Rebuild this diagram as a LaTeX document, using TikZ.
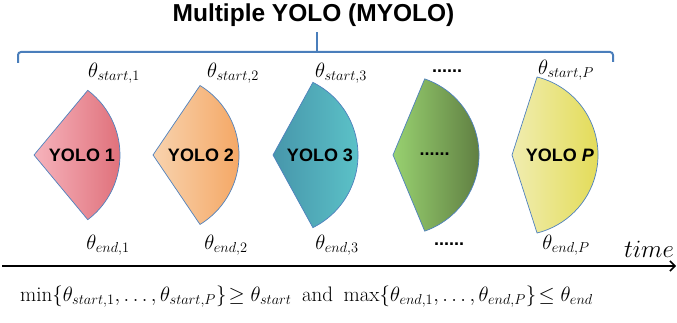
\documentclass[tikz,border=0pt]{standalone}
\usepackage{fontspec}
\newfontfamily\arial{Liberation Sans}
\usetikzlibrary{arrows.meta}
\definecolor{bordercol}{HTML}{4F81BD}
\definecolor{bracecol}{HTML}{4A7EBB}
\definecolor{cAL}{HTML}{F6B3BC}\definecolor{cAM}{HTML}{F29CA6}\definecolor{cAR}{HTML}{DF6F79}
\definecolor{cBL}{HTML}{F8D3AE}\definecolor{cBM}{HTML}{F6BB86}\definecolor{cBR}{HTML}{F4A25C}
\definecolor{cCL}{HTML}{4796AB}\definecolor{cCM}{HTML}{54B3BE}\definecolor{cCR}{HTML}{5EC7CB}
\definecolor{cDL}{HTML}{98D170}\definecolor{cDM}{HTML}{7CC25A}\definecolor{cDR}{HTML}{5A763D}
\definecolor{cEL}{HTML}{F0EDB0}\definecolor{cEM}{HTML}{E8E282}\definecolor{cER}{HTML}{E2DA50}
\tikzset{
  sector/.style={draw=bordercol, line width=0.7pt},
  yololabel/.style={font=\arial\bfseries\fontsize{18}{20}\selectfont, inner sep=0pt},
  thlabel/.style={font=\fontsize{19.5}{22}\selectfont, inner sep=0pt},
  dotlabel/.style={font=\arial\bfseries\fontsize{18}{20}\selectfont, inner sep=0pt},
  bracestyle/.style={draw=bracecol, line width=2pt, rounded corners=3pt},
}
\newcommand{\sectorshape}[8]{%
  \coordinate (#8apex) at (#1,167);
  \coordinate (#8c) at (#2,167);
  \path[sector, left color=#5, middle color=#6, right color=#7]
    (#8apex) -- ([shift={(#4:#3)}]#8c) arc[start angle=#4, end angle=-#4, radius=#3] -- cycle;
}
\begin{document}
\begin{tikzpicture}[x=1pt,y=1pt]
\useasboundingbox (0,0) rectangle (677,322);
% title
\node[font=\arial\bfseries\fontsize{24.5}{27}\selectfont, anchor=base, inner sep=0pt] (title) at (313.5,300) {Multiple YOLO (MYOLO)};
% brace
\coordinate (bl) at (18,259);
\coordinate (br) at (613,260);
\coordinate (bt) at (316.5,290);
\coordinate (bm) at (316.5,270);
\draw[bracestyle] (bl) |- (bm) -| (br);
\draw[draw=bracecol, line width=2pt] (bm) -- (bt);
% sectors
\sectorshape{34}{39}{81}{53}{cAL}{cAM}{cAR}{s1}
\sectorshape{153}{157.6}{81.4}{58.6}{cBL}{cBM}{cBR}{s2}
\sectorshape{273}{277}{81}{63.7}{cCL}{cCM}{cCR}{s3}
\sectorshape{393}{398.5}{80.5}{71}{cDL}{cDM}{cDR}{s4}
\sectorshape{512}{517.6}{80.4}{76}{cEL}{cEM}{cER}{s5}
% labels inside
\node[yololabel] (y1) at (82,167) {YOLO 1};
\node[yololabel] (y2) at (201,167) {YOLO 2};
\node[yololabel] (y3) at (320,167) {YOLO 3};
\node[dotlabel] (y4) at (434.5,168) {......};
\node[yololabel] (y5) at (560,167) {YOLO \textit{P}};
% start labels
\node[thlabel] (st1) at (114,249) {$\theta_{start,1}$};
\node[thlabel] (st2) at (233,249) {$\theta_{start,2}$};
\node[thlabel] (st3) at (341,249) {$\theta_{start,3}$};
\node[dotlabel] (st4) at (447,251) {......};
\node[thlabel] (st5) at (566,252) {$\theta_{start,P}$};
% end labels
\node[thlabel] (en1) at (108,77) {$\theta_{end,1}$};
\node[thlabel] (en2) at (226,77) {$\theta_{end,2}$};
\node[thlabel] (en3) at (337,77) {$\theta_{end,3}$};
\node[dotlabel] (en4) at (449,78) {......};
\node[thlabel] (en5) at (566,77) {$\theta_{end,P}$};
% time axis
\coordinate (axL) at (2,56);
\coordinate (axR) at (676,56);
\draw[line width=1.8pt, -{Straight Barb[length=5pt,width=10pt,line width=1.5pt]}] (axL) -- (axR);
\node[font=\fontsize{25}{27}\selectfont, inner sep=0pt] (time) at (649,73) {$time$};
% formula
\node[font=\fontsize{21}{23}\selectfont, anchor=west, inner sep=0pt] (formula) at (20,25)
 {$\min\{\theta_{start,1},\dots,\theta_{start,P}\}\!\geq\theta_{start}$\enskip and\enskip $\max\{\theta_{end,1},\dots,\theta_{end,P}\}\!\leq\theta_{end}$};
\end{tikzpicture}
\end{document}
